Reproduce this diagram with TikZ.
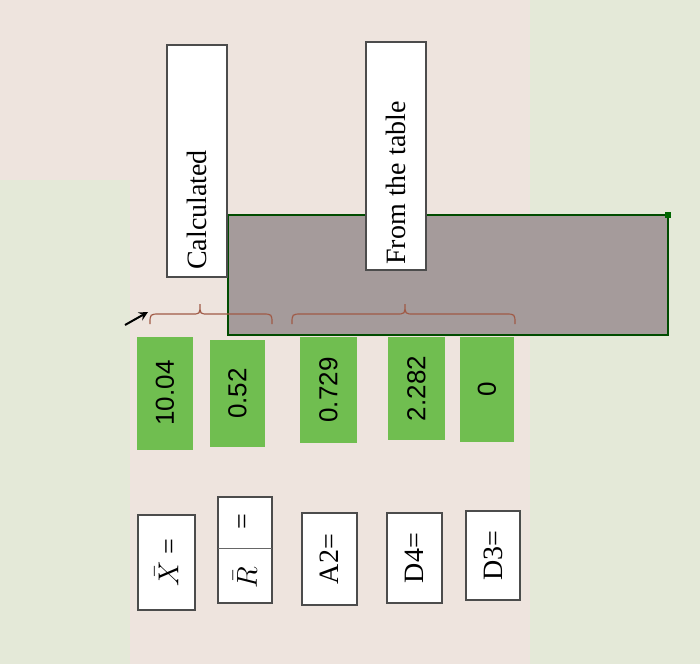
\documentclass[tikz,border=0pt]{standalone}
\usepackage{fontspec}
\setmainfont{Liberation Serif}
\setsansfont{Liberation Sans}
\definecolor{bgp}{RGB}{238,228,222}
\definecolor{bgg}{RGB}{224,236,214}
\definecolor{gbox}{RGB}{112,190,80}
\definecolor{panelc}{RGB}{165,155,155}
\definecolor{bracec}{RGB}{160,90,70}
\begin{document}
\begin{tikzpicture}[x=0.5pt,y=-0.5pt,
 lab/.style={draw=black!70,fill=white,line width=0.8pt,font=\fontsize{13}{15}\selectfont,inner sep=0pt},
 num/.style={fill=gbox,inner sep=0pt,font=\sffamily\fontsize{13}{15}\selectfont},
 brace/.style={draw=bracec,line width=0.6pt}]
\fill[bgp] (0,0) rectangle (700,664);
\fill[bgg,opacity=0.7] (0,180) rectangle (130,664);
\fill[bgg,opacity=0.7] (530,0) rectangle (700,664);
\useasboundingbox (0,0) rectangle (700,664);
\node[draw=green!30!black,line width=1pt,fill=panelc,minimum width=220pt,minimum height=60pt,inner sep=0pt] (panel) at (448,275) {};
\fill[green!40!black] (665,212) rectangle (671,218);
\node[lab,minimum width=30pt,minimum height=116pt] (calc) at (197,161) {};
\node[rotate=90,font=\fontsize{14}{16}\selectfont] at (197,210) {Calculated};
\node[lab,minimum width=30pt,minimum height=114pt] (tab) at (396,156) {};
\node[rotate=90,font=\fontsize{14}{16}\selectfont] at (396,183) {From the table};
\draw[brace] (150,324) .. controls (150,314) .. (160,314) -- (192,314) .. controls (200,314) .. (200,304)
  .. controls (200,314) .. (208,314) -- (262,314) .. controls (272,314) .. (272,324);
\draw[brace] (292,324) .. controls (292,314) .. (302,314) -- (396,314) .. controls (405,314) .. (405,304)
  .. controls (405,314) .. (414,314) -- (505,314) .. controls (515,314) .. (515,324);
\draw[line width=1pt,-stealth] (125,325) -- (148,312);
\node[num,minimum width=28pt,minimum height=56.5pt] (n1) at (165,393) {};
\node[rotate=90,font=\sffamily\fontsize{13}{15}\selectfont] at (n1) {10.04};
\node[num,minimum width=27.5pt,minimum height=53.5pt] (n2) at (237.5,393.5) {};
\node[rotate=90,font=\sffamily\fontsize{13}{15}\selectfont] at (n2) {0.52};
\node[num,minimum width=28.5pt,minimum height=53pt] (n3) at (328.5,390) {};
\node[rotate=90,font=\sffamily\fontsize{13}{15}\selectfont] at (n3) {0.729};
\node[num,minimum width=28.5pt,minimum height=51.5pt] (n4) at (416.5,388.5) {};
\node[rotate=90,font=\sffamily\fontsize{13}{15}\selectfont] at (n4) {2.282};
\node[num,minimum width=27pt,minimum height=52.5pt] (n5) at (487,389.5) {};
\node[rotate=90,font=\sffamily\fontsize{13}{15}\selectfont] at (n5) {0};
\node[lab,minimum width=28.5pt,minimum height=47.5pt] (l1) at (166.5,562.5) {};
\node[rotate=90,font=\fontsize{14}{16}\selectfont] at (l1) {$\bar{X}$ =};
\node[lab,minimum width=27pt,minimum height=53pt] (l2) at (245,550) {};
\draw[black!60] (218,548) -- (272,548);
\node[rotate=90,font=\fontsize{14}{16}\selectfont] at (245,578) {$\bar{R}$};
\node[rotate=90,font=\fontsize{14}{16}\selectfont] at (245,522) {=};
\node[lab,minimum width=27.5pt,minimum height=46pt] (l3) at (329.5,559) {};
\node[rotate=90,font=\fontsize{14}{16}\selectfont] at (l3) {A2=};
\node[lab,minimum width=27.5pt,minimum height=45pt] (l4) at (414.5,558) {};
\node[rotate=90,font=\fontsize{14}{16}\selectfont] at (l4) {D4=};
\node[lab,minimum width=27pt,minimum height=44.5pt] (l5) at (493,555.5) {};
\node[rotate=90,font=\fontsize{14}{16}\selectfont] at (l5) {D3=};
\end{tikzpicture}
\end{document}
